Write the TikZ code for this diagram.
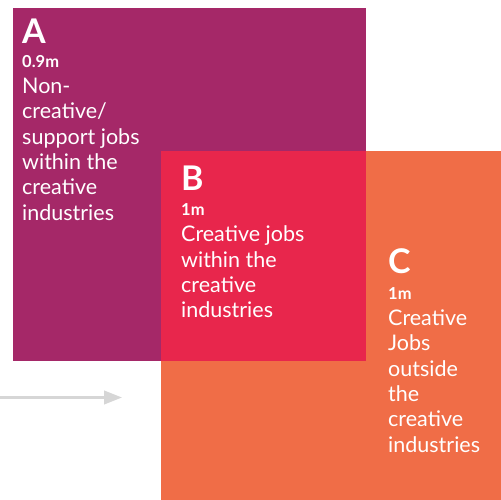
\documentclass[tikz,border=0pt]{standalone}
\usepackage{fontspec}
\setmainfont{Lato}
\usetikzlibrary{positioning,arrows.meta}

\definecolor{plum}{HTML}{A52868}
\definecolor{crimson}{HTML}{E8264C}
\definecolor{coral}{HTML}{F06D47}
\definecolor{arrowgrey}{HTML}{D6D6D6}

% lines hung from the baseline of the first one
\newcommand{\textlines}[1]{\begin{tabular}[t]{@{}l@{}}#1\end{tabular}}

\tikzset{
  letter/.style={inner sep=0pt, text=white, font=\fontsize{34}{34}\selectfont\bfseries},
  amount/.style={inner sep=0pt, text=white, font=\fontsize{16.5}{18}\selectfont\bfseries},
  blurb/.style={inner sep=0pt, text=white, font=\fontsize{21.5}{25.4}\selectfont},
}

\begin{document}
\begin{tikzpicture}[x=1pt,y=1pt]
\useasboundingbox (0,0) rectangle (501,500);
% the three areas
\fill [plum] (13,139.3) rectangle (366,492);
\fill [coral] (161,0) rectangle (501,349);
\fill [crimson] (161,139.3) rectangle (366,349);
% arrow on the left
\coordinate (tail) at (0,102.5);
\coordinate (tip) at (122,102.5);
\draw [arrowgrey, line width=2.5pt, -{Triangle[length=18pt,width=13.5pt]}] (tail) -- (tip);
% A
\node [letter, anchor=base west] (A) at (22,456.7) {A};
\node [amount, below=24pt of A.base west, anchor=base west] (A amount) {0.9m};
\node [blurb, below=26pt of A amount.base west, anchor=base west] (A text) {\textlines{Non-\\creative/\\support jobs\\within the\\creative\\industries}};
% B
\node [letter, anchor=base west] (B) at (181,309.3) {B};
\node [amount, below=25pt of B.base west, anchor=base west] (B amount) {1m};
\node [blurb, below=26pt of B amount.base west, anchor=base west] (B text) {\textlines{Creative jobs\\within the\\creative\\industries}};
% C
\node [letter, anchor=base west] (C) at (388,226.7) {C};
\node [amount, below=26pt of C.base west, anchor=base west] (C amount) {1m};
\node [blurb, below=26pt of C amount.base west, anchor=base west] (C text) {\textlines{Creative\\Jobs\\outside\\the\\creative\\industries}};
\end{tikzpicture}
\end{document}
